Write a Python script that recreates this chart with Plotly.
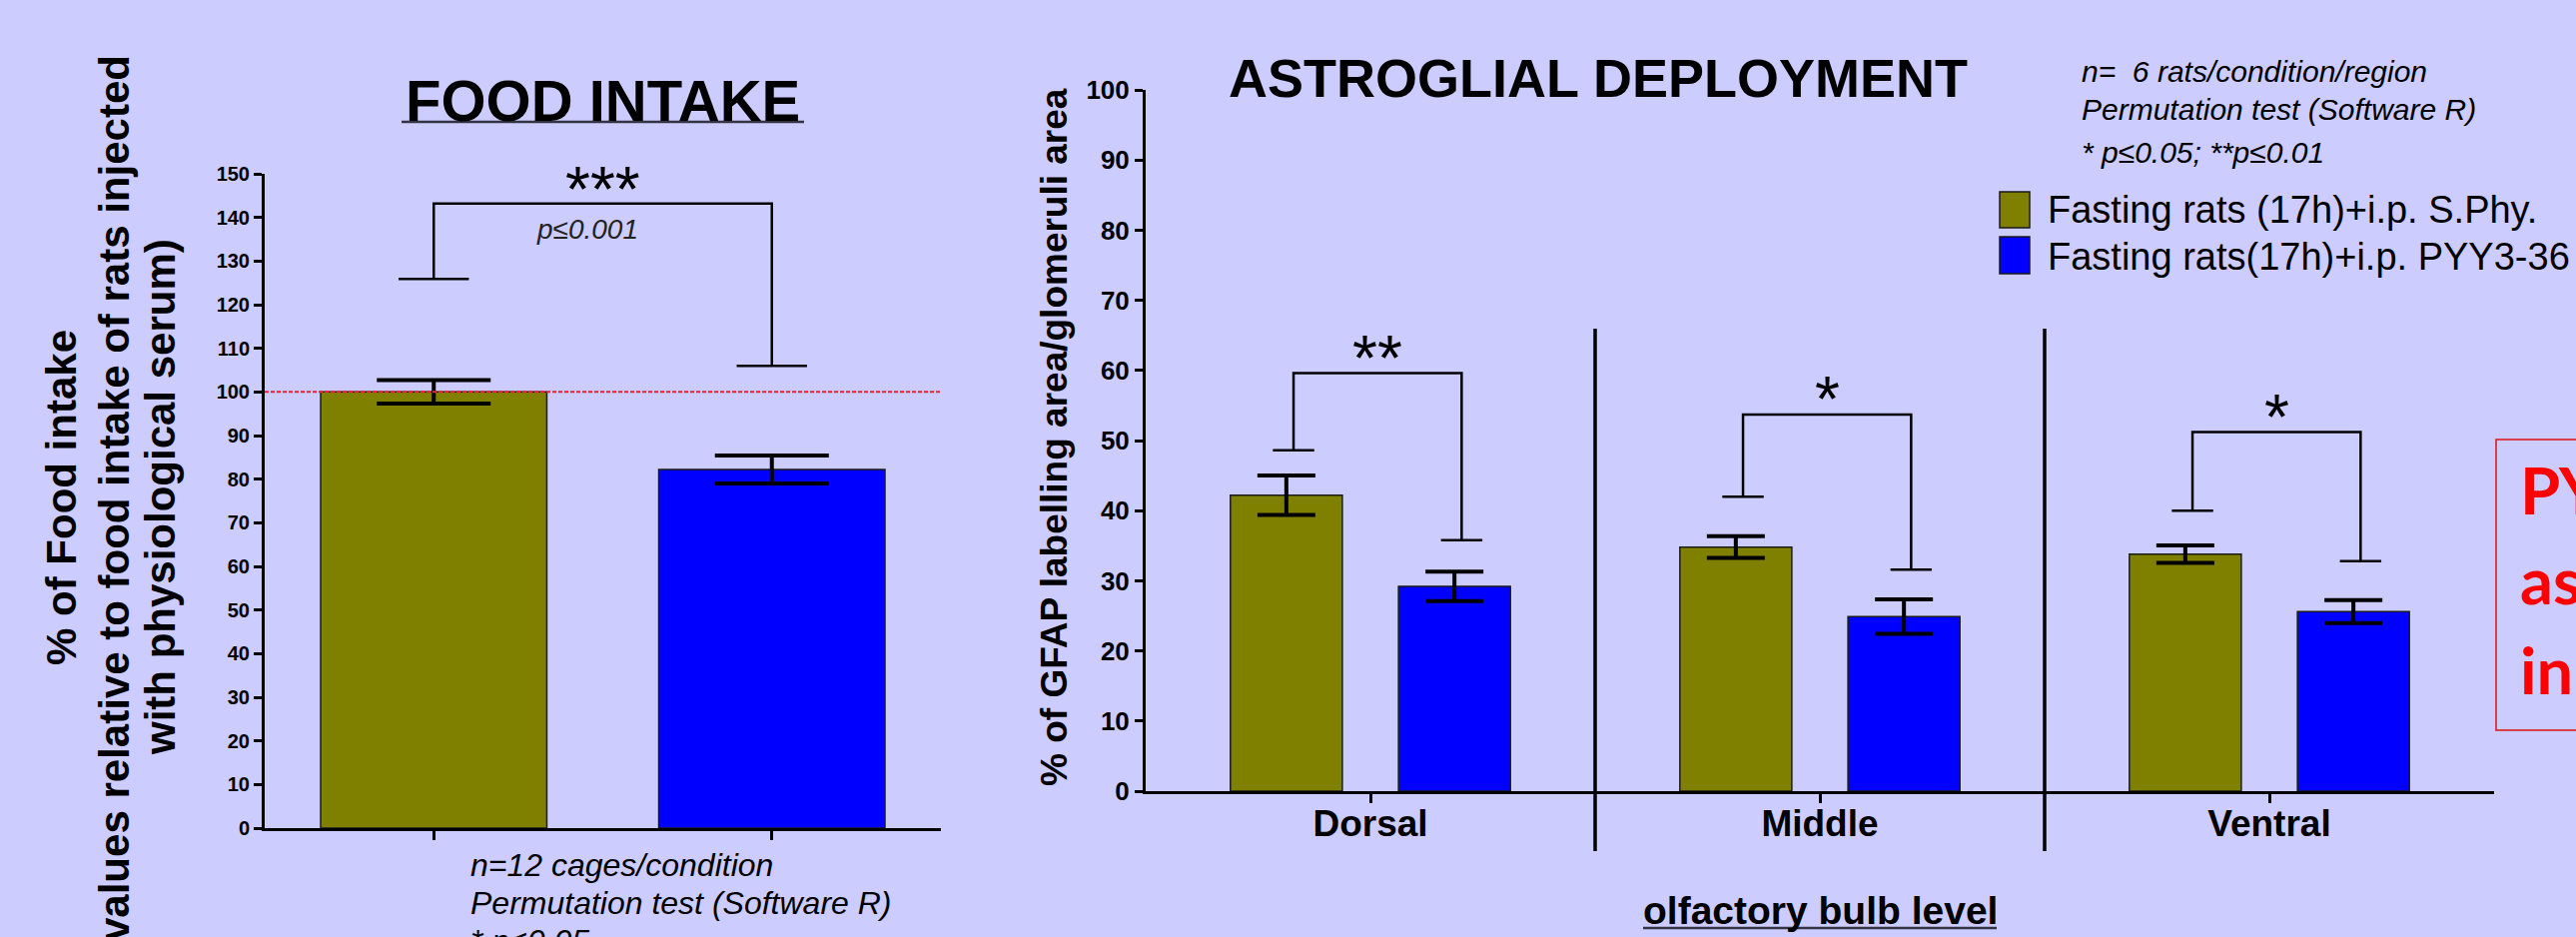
import plotly.graph_objects as go

W, H = 2579, 938

# ---------------- data ----------------
series_names = ["Fasting rats (17h)+i.p. S.Phy.", "Fasting rats(17h)+i.p. PYY3-36"]

# Food intake panel
food_mean = [100.0, 82.2]
food_sem = [2.7, 3.2]
food_bracket_caps = [125.9, 106.0]   # lower ends of the bracket legs
food_bracket_top = 143.2

# Astroglial deployment panel
regions = ["Dorsal", "Middle", "Ventral"]
sphy_mean = [42.2, 34.8, 33.8]
sphy_sem = [2.8, 1.55, 1.25]
pyy_mean = [29.2, 24.9, 25.6]
pyy_sem = [2.1, 2.45, 1.65]
br_left_cap = [48.6, 42.0, 40.0]
br_right_cap = [35.8, 31.6, 32.8]
br_top = [59.6, 53.7, 51.2]
sig_labels = ["**", "*", "*"]

left_ticks = list(range(0, 151, 10))
right_ticks = list(range(0, 101, 10))

# ---------------- style ----------------
BG = "#CCCCFF"
OLIVE = "#808000"
BLUE = "#0000FF"
FONT = "Liberation Sans, Arial, sans-serif"


def px(x):
    return x / W


def py(y):
    return 1 - y / H


fig = go.Figure()

# ----- left panel bars -----
fig.add_trace(go.Bar(
    x=[0, 1], y=food_mean, width=0.669, offset=-0.3345,
    marker=dict(color=[OLIVE, BLUE], line=dict(color="#1a1a1a", width=1.5)),
    error_y=dict(type="data", array=food_sem, visible=True, color="black",
                 thickness=4, width=57),
    xaxis="x", yaxis="y", showlegend=False,
))

# left bracket
L_HW = 0.104
lx, rx = 0.0, 1.0
fig.add_trace(go.Scatter(
    x=[lx - L_HW, lx + L_HW, None, lx, lx, rx, rx, None, rx - L_HW, rx + L_HW],
    y=[food_bracket_caps[0], food_bracket_caps[0], None,
       food_bracket_caps[0], food_bracket_top, food_bracket_top, food_bracket_caps[1], None,
       food_bracket_caps[1], food_bracket_caps[1]],
    mode="lines", line=dict(color="black", width=2.5),
    xaxis="x", yaxis="y", showlegend=False, hoverinfo="skip",
))

# ----- right panel bars -----
BAR_W = 0.249
SHIFT = 0.187
fig.add_trace(go.Bar(
    name=series_names[0], x=[0, 1, 2], y=sphy_mean, width=BAR_W, offset=-SHIFT - BAR_W / 2,
    marker=dict(color=OLIVE, line=dict(color="#1a1a1a", width=1.5)),
    error_y=dict(type="data", array=sphy_sem, visible=True, color="black",
                 thickness=4, width=29),
    xaxis="x2", yaxis="y2", showlegend=False,
))
fig.add_trace(go.Bar(
    name=series_names[1], x=[0, 1, 2], y=pyy_mean, width=BAR_W, offset=SHIFT - BAR_W / 2,
    marker=dict(color=BLUE, line=dict(color="#1a1a1a", width=1.5)),
    error_y=dict(type="data", array=pyy_sem, visible=True, color="black",
                 thickness=4, width=29),
    xaxis="x2", yaxis="y2", showlegend=False,
))

# right brackets
R_HW = 0.046
B_SHIFT = 0.016
bx, byv = [], []
for i in range(len(regions)):
    l = i - SHIFT + B_SHIFT
    r = i + SHIFT + B_SHIFT
    bx += [l - R_HW, l + R_HW, None, l, l, r, r, None, r - R_HW, r + R_HW, None]
    byv += [br_left_cap[i], br_left_cap[i], None, br_left_cap[i], br_top[i], br_top[i],
            br_right_cap[i], None, br_right_cap[i], br_right_cap[i], None]
fig.add_trace(go.Scatter(
    x=bx, y=byv, mode="lines", line=dict(color="black", width=2.5),
    xaxis="x2", yaxis="y2", showlegend=False, hoverinfo="skip",
))

annotations = []
shapes = []


def ann(x, y, text, size, xanchor="center", yanchor="middle", xref="paper", yref="paper",
        weight="normal", color="black", family=FONT, textangle=0, yshift=0):
    annotations.append(dict(x=x, y=y, xref=xref, yref=yref, text=text, showarrow=False,
                            xanchor=xanchor, yanchor=yanchor, textangle=textangle,
                            yshift=yshift, borderpad=0,
                            font=dict(family=family, size=size, color=color, weight=weight)))


# asterisks
AST = 64
ann(0.5, py(176 + 14), "***", AST, xref="x")
for i in range(len(regions)):
    ann(i + B_SHIFT, br_top[i], sig_labels[i], AST, xref="x2", yref="y2",
        yanchor="bottom", yshift=-22)

ann(px(588), py(230), "<i>p≤0.001</i>", 28, color="#222222")

# titles
ann(px(603), py(100), "FOOD INTAKE", 58, weight="bold")
shapes.append(dict(type="line", xref="paper", yref="paper", x0=px(402), x1=px(805),
                   y0=py(122), y1=py(122), line=dict(color="#333344", width=2.5)))
ann(px(1600), py(78), "ASTROGLIAL DEPLOYMENT", 54, weight="bold")

# y-axis titles (rotated)
left_title = ["% of Food intake",
              "(values relative to food intake of rats injected",
              "with physiological serum)"]
for xc, yc, t in zip([62, 114, 161], [498, 506, 498], left_title):
    ann(px(xc), py(yc), t, 42, weight="bold", textangle=-90)
ann(px(1055), py(438), "% of GFAP labelling area/glomeruli area", 37, weight="bold",
    textangle=-90)

# stats notes
stats_right = ["n=  6 rats/condition/region", "Permutation test (Software R)",
               "* p≤0.05; **p≤0.01"]
for yc, t in zip([71.6, 109.6, 152.6], stats_right):
    ann(px(2083), py(yc), "<i>" + t + "</i>", 30, xanchor="left")
stats_left = ["n=12 cages/condition", "Permutation test (Software R)", "* p≤0.05"]
for yc, t in zip([866, 904, 942], stats_left):
    ann(px(470), py(yc), "<i>" + t + "</i>", 32, xanchor="left")

# legend (drawn)
for (y0, y1), col, name, yc in zip([(192, 228), (237, 274)], [OLIVE, BLUE], series_names,
                                   [209.8, 256.8]):
    shapes.append(dict(type="rect", xref="paper", yref="paper", x0=px(2002), x1=px(2032),
                       y0=py(y1), y1=py(y0), fillcolor=col, line=dict(color="#1a1a1a", width=1.5)))
    ann(px(2049), py(yc), name, 38, xanchor="left")

# x-axis caption
ann(px(1822), py(911.5), "olfactory bulb level", 39, weight="bold")
shapes.append(dict(type="line", xref="paper", yref="paper", x0=px(1645), x1=px(1999),
                   y0=py(929), y1=py(929), line=dict(color="#333344", width=2.5)))

# separators between regions
for xs in [0.5, 1.5]:
    shapes.append(dict(type="line", xref="x2", yref="paper", x0=xs, x1=xs,
                       y0=py(852), y1=py(329), line=dict(color="black", width=3.5)))

# reference line at 100 %
shapes.append(dict(type="line", xref="x", yref="y", x0=-0.5, x1=1.52, y0=100, y1=100,
                   line=dict(color="#EE2233", width=2, dash="4px,2px"), layer="above"))

# red conclusion box (partly off the page)
shapes.append(dict(type="rect", xref="paper", yref="paper", x0=px(2499), x1=px(2640),
                   y0=py(731), y1=py(440), line=dict(color="#DD1111", width=1.5)))
for yc, t in zip([490, 580, 670], ["PY", "as", "in"]):
    ann(px(2522), py(yc), t, 65, xanchor="left", weight="bold", color="#FF0000",
        family="Lato, Open Sans, sans-serif")

axis_common = dict(showline=True, linecolor="black", linewidth=3, ticks="outside",
                   tickcolor="black", tickwidth=2.5, showgrid=False, zeroline=False,
                   fixedrange=True)

fig.update_layout(
    width=W, height=H, autosize=False,
    margin=dict(l=0, r=0, t=0, b=0, pad=0, autoexpand=False),
    paper_bgcolor=BG, plot_bgcolor=BG,
    barmode="overlay",
    showlegend=False,
    xaxis=dict(domain=[px(265), px(942)], range=[-0.5, 1.5], anchor="y",
               tickvals=[0, 1], showticklabels=False, ticklen=9, **axis_common),
    yaxis=dict(domain=[py(829), py(174)], range=[0, 150], anchor="x",
               tickvals=left_ticks, ticklen=8,
               tickfont=dict(family=FONT, size=20, color="black", weight="bold"),
               **axis_common),
    xaxis2=dict(domain=[px(1147), px(2497)], range=[-0.5, 2.5], anchor="y2",
                tickvals=[0, 1, 2], ticktext=regions, ticklen=9, ticklabelstandoff=-11,
                tickfont=dict(family=FONT, size=37, color="black", weight="bold"),
                **axis_common),
    yaxis2=dict(domain=[py(792), py(90)], range=[0, 100], anchor="x2",
                tickvals=right_ticks, ticklen=8,
                tickfont=dict(family=FONT, size=26, color="black", weight="bold"),
                **axis_common),
    annotations=annotations,
    shapes=shapes,
)

fig.write_html("out.html", config={"displayModeBar": False},
               post_script="document.body.style.margin='0';")
